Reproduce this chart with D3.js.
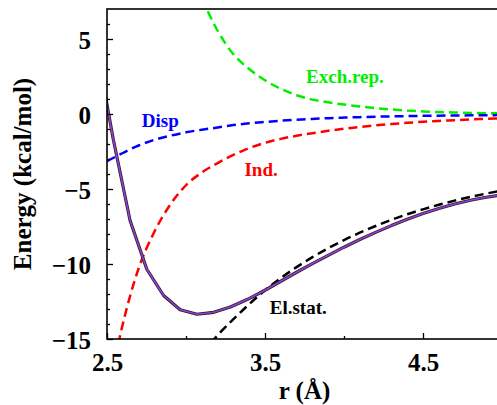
<!DOCTYPE html>
<html>
<head>
<meta charset="utf-8">
<script src="https://cdn.jsdelivr.net/npm/d3@7"></script>
<style>
  html, body { margin: 0; padding: 0; background: #fff; }
  svg { display: block; }
  text { font-family: "Liberation Serif", "Times New Roman", serif; font-weight: bold; }
</style>
</head>
<body>
<svg id="chart" width="497" height="405"></svg>
<script>
// ---- data ----
const rTotal = [2.434, 2.540, 2.646, 2.752, 2.858, 2.963, 3.069, 3.175, 3.281, 3.387, 3.5, 3.6, 3.7, 3.8, 3.9, 4.0, 4.1, 4.2, 4.3, 4.4, 4.5, 4.6, 4.7, 4.8, 4.9, 5.0];
const eTotal = [4.4, -1.7, -7.1, -10.35, -12.1, -13.05, -13.35, -13.22, -12.87, -12.37, -11.75, -11.15, -10.55, -9.97, -9.42, -8.88, -8.37, -7.89, -7.44, -7.02, -6.64, -6.3, -6.0, -5.75, -5.55, -5.38];

const rDisp = [2.5, 2.6, 2.7, 2.8, 2.9, 3.0, 3.1, 3.2, 3.3, 3.4, 3.5, 3.6, 3.7, 3.8, 3.9, 4.0, 4.1, 4.2, 4.3, 4.4, 4.5, 4.6, 4.7, 4.8, 4.9, 5.0];
const eDisp = [-3.15, -2.6, -2.1, -1.72, -1.45, -1.22, -1.05, -0.9, -0.74, -0.62, -0.53, -0.45, -0.38, -0.33, -0.28, -0.24, -0.21, -0.18, -0.16, -0.14, -0.12, -0.11, -0.1, -0.09, -0.08, -0.07];

const rInd = [2.5, 2.6, 2.7, 2.8, 2.9, 3.0, 3.1, 3.2, 3.3, 3.4, 3.5, 3.6, 3.7, 3.8, 3.9, 4.0, 4.1, 4.2, 4.3, 4.4, 4.5, 4.6, 4.7, 4.8, 4.9, 5.0];
const eInd = [-19.0, -14.0, -10.3, -7.85, -6.05, -4.75, -3.9, -3.27, -2.72, -2.27, -1.92, -1.66, -1.45, -1.28, -1.12, -0.98, -0.86, -0.76, -0.67, -0.59, -0.52, -0.46, -0.41, -0.36, -0.32, -0.28];

const rExch = [3.1, 3.2, 3.3, 3.4, 3.5, 3.6, 3.7, 3.8, 3.9, 4.0, 4.1, 4.2, 4.3, 4.4, 4.5, 4.6, 4.7, 4.8, 4.9, 5.0];
const eExch = [7.7, 5.55, 3.98, 3.0, 2.25, 1.68, 1.25, 0.96, 0.78, 0.63, 0.5, 0.39, 0.3, 0.23, 0.17, 0.13, 0.1, 0.07, 0.05, 0.04];

const rElst = [3.1, 3.2, 3.3, 3.4, 3.5, 3.6, 3.7, 3.8, 3.9, 4.0, 4.1, 4.2, 4.3, 4.4, 4.5, 4.6, 4.7, 4.8, 4.9, 5.0];
const eElst = [-16.0, -14.75, -13.68, -12.68, -11.75, -10.94, -10.21, -9.545, -8.945, -8.405, -7.915, -7.465, -7.055, -6.685, -6.355, -6.055, -5.775, -5.525, -5.305, -5.105];

const xMajor = [2.5, 3.5, 4.5];
const xMinor = [3.0, 4.0, 5.0];
const yMajor = [-15, -10, -5, 0, 5];
const yMinor = [-14,-13,-12,-11,-9,-8,-7,-6,-4,-3,-2,-1,1,2,3,4,6];

const labels = [
  {text: "Exch.rep.", x: 3.76, y: 2.1, color: "#00ee00"},
  {text: "Disp", x: 2.72, y: -0.88, color: "#0000ff"},
  {text: "Ind.", x: 3.37, y: -4.1, color: "#ff0000"},
  {text: "El.stat.", x: 3.53, y: -13.3, color: "#000000"}
];

// ---- layout ----
const svg = d3.select("#chart");
const L = 107, R = 502, T = 9, B = 339;
const x = d3.scaleLinear().domain([2.5, 5.0]).range([L, R]);
const y = d3.scaleLinear().domain([-15, 7]).range([B, T]);

svg.append("defs").append("clipPath").attr("id", "clip")
  .append("rect").attr("x", L).attr("y", T).attr("width", R - L).attr("height", B - T);

const plot = svg.append("g").attr("clip-path", "url(#clip)");

function series(rs, es) { return rs.map((r, i) => [r, es[i]]); }
const smooth = d3.line().x(d => x(d[0])).y(d => y(d[1])).curve(d3.curveMonotoneX);
const straight = d3.line().x(d => x(d[0])).y(d => y(d[1]));

const dashed = [
  {d: series(rExch, eExch), color: "#00ee00"},
  {d: series(rDisp, eDisp), color: "#0000ff"},
  {d: series(rInd, eInd), color: "#ff0000"},
  {d: series(rElst, eElst), color: "#000000"}
];
dashed.forEach(s => {
  plot.append("path").attr("d", smooth(s.d)).attr("fill", "none")
    .attr("stroke", s.color).attr("stroke-width", 2.5).attr("stroke-dasharray", "9,5");
});

const tot = series(rTotal, eTotal);
plot.append("path").attr("d", straight(tot)).attr("fill", "none")
  .attr("stroke", "#222").attr("stroke-width", 3.2).attr("stroke-linejoin", "round");
plot.append("path").attr("d", straight(tot)).attr("fill", "none")
  .attr("stroke", "#9a3ad6").attr("stroke-width", 1.6).attr("stroke-linejoin", "round");

// ---- axes ----
const fs = "25px";
const gx = svg.append("g").attr("transform", `translate(0,${B})`)
  .call(d3.axisBottom(x).tickValues(xMajor).tickFormat(d3.format(".1f")).tickSizeInner(-6).tickSizeOuter(0).tickPadding(15));
const gxm = svg.append("g").attr("transform", `translate(0,${B})`)
  .call(d3.axisBottom(x).tickValues(xMinor).tickFormat("").tickSizeInner(-3).tickSizeOuter(0));
const gy = svg.append("g").attr("transform", `translate(${L},0)`)
  .call(d3.axisLeft(y).tickValues(yMajor).tickFormat(d => d < 0 ? "\u2212" + Math.abs(d) : String(d)).tickSizeInner(-6).tickSizeOuter(0).tickPadding(16));
const gym = svg.append("g").attr("transform", `translate(${L},0)`)
  .call(d3.axisLeft(y).tickValues(yMinor).tickFormat("").tickSizeInner(-3).tickSizeOuter(0));

[gx, gxm, gy, gym].forEach(g => {
  g.select(".domain").remove();
  g.selectAll(".tick line").attr("stroke", "#000").attr("stroke-width", 1.3);
  g.selectAll("text").attr("font-size", fs).attr("fill", "#000")
    .style("font-family", '"Liberation Serif", "Times New Roman", serif').style("font-weight", "bold");
});
gy.selectAll("text").attr("dy", "0.36em");
gx.selectAll("text").attr("dy", "0.68em");

// frame
svg.append("rect").attr("x", L).attr("y", T).attr("width", R - L).attr("height", B - T)
  .attr("fill", "none").attr("stroke", "#000").attr("stroke-width", 1.6);

// axis titles
svg.append("text").attr("x", (L + R) / 2).attr("y", 399).attr("text-anchor", "middle")
  .attr("font-size", "25px").text("r (\u00C5)");
svg.append("text").attr("transform", `translate(31,${(T + B) / 2}) rotate(-90)`)
  .attr("text-anchor", "middle").attr("font-size", "25px").text("Energy (kcal/mol)");

// curve labels
svg.selectAll(".lbl").data(labels).enter().append("text").attr("class", "lbl")
  .attr("x", d => x(d.x)).attr("y", d => y(d.y)).attr("fill", d => d.color)
  .attr("font-size", "19px").text(d => d.text);
</script>
</body>
</html>
